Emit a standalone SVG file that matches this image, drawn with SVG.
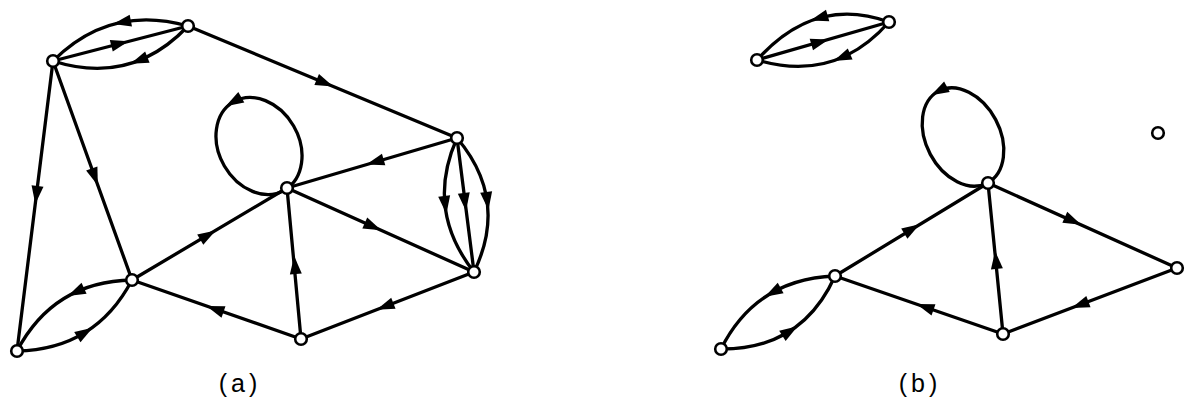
<svg xmlns="http://www.w3.org/2000/svg" width="1189" height="404" viewBox="0 0 1189 404">
<style>
.e{fill:none;stroke:#000;stroke-width:3.3;stroke-linecap:round}
.n{fill:#fff;stroke:#000;stroke-width:2.6}
.lbl{font-family:"Liberation Sans",Arial,sans-serif;font-size:25px;fill:#000;letter-spacing:4px}
</style>
<defs>
<path id="ah" d="M9,0 L-9,-6 L-9,6 Z" fill="#000"/>
</defs>
<g id="connectors">
<!-- (a) -->
<path class="e" d="M53,61 Q110,4 188,26"/>
<path class="e" d="M53,61 L188,26"/>
<path class="e" d="M53,61 Q131.5,86 188,26"/>
<use href="#ah" transform="translate(122,22.3) rotate(168.8)"/>
<use href="#ah" transform="translate(120,43.5) rotate(-14.5)"/>
<use href="#ah" transform="translate(139,60.5) rotate(158.3)"/>
<path class="e" d="M188,26 L457,138"/>
<use href="#ah" transform="translate(325,83) rotate(22.6)"/>
<path class="e" d="M53,61 L17,351"/>
<use href="#ah" transform="translate(36.4,195) rotate(97.1)"/>
<path class="e" d="M53,61 L132,280"/>
<use href="#ah" transform="translate(94.8,177) rotate(70.2)"/>
<path class="e" d="M457,138 L287,188"/>
<use href="#ah" transform="translate(375,162) rotate(163.6)"/>
<path class="e" d="M457,138 Q425,210 474,272"/>
<path class="e" d="M457,138 L474,272"/>
<path class="e" d="M457,138 Q509,199.5 474,272"/>
<use href="#ah" transform="translate(445.3,205) rotate(82.8)"/>
<use href="#ah" transform="translate(464.9,202) rotate(82.8)"/>
<use href="#ah" transform="translate(487.3,201) rotate(82.8)"/>
<ellipse class="e" cx="259" cy="146" rx="40" ry="51" transform="rotate(-30 259 146)"/>
<use href="#ah" transform="translate(233.5,101.8) rotate(150)"/>
<path class="e" d="M132,280 L287,188"/>
<use href="#ah" transform="translate(208,235) rotate(-30.7)"/>
<path class="e" d="M287,188 L474,272"/>
<use href="#ah" transform="translate(373,226.6) rotate(24.2)"/>
<path class="e" d="M301,339 L287,188"/>
<use href="#ah" transform="translate(295,265) rotate(-95.3)"/>
<path class="e" d="M301,339 L132,280"/>
<use href="#ah" transform="translate(215,309) rotate(-160.7)"/>
<path class="e" d="M474,272 L301,339"/>
<use href="#ah" transform="translate(385,306.5) rotate(158.8)"/>
<path class="e" d="M132,280 Q53.5,281.5 17,351"/>
<path class="e" d="M132,280 Q95.5,349.5 17,351"/>
<use href="#ah" transform="translate(75.9,292.1) rotate(155)"/>
<use href="#ah" transform="translate(85,332.5) rotate(-31.7)"/>
<!-- (b) -->
<path class="e" d="M757,60 Q815,-5 889,22"/>
<path class="e" d="M757,60 L889,22"/>
<path class="e" d="M757,60 Q835,83.3 889,22"/>
<use href="#ah" transform="translate(819,18) rotate(163.9)"/>
<use href="#ah" transform="translate(820,41.9) rotate(-16.1)"/>
<use href="#ah" transform="translate(841.9,57.5) rotate(156.6)"/>
<ellipse class="e" cx="963" cy="137" rx="37" ry="52" transform="rotate(-28 963 137)"/>
<use href="#ah" transform="translate(939,91) rotate(152)"/>
<path class="e" d="M835,276 L988,183"/>
<use href="#ah" transform="translate(912,229) rotate(-31.3)"/>
<path class="e" d="M988,183 L1177,268"/>
<use href="#ah" transform="translate(1073,221) rotate(24.2)"/>
<path class="e" d="M1177,268 L1003,334"/>
<use href="#ah" transform="translate(1080,304.8) rotate(159.2)"/>
<path class="e" d="M1003,334 L988,183"/>
<use href="#ah" transform="translate(996,260) rotate(-95.7)"/>
<path class="e" d="M1003,334 L835,276"/>
<use href="#ah" transform="translate(925,307) rotate(-160.9)"/>
<path class="e" d="M835,276 Q756,279 721,349"/>
<path class="e" d="M835,276 Q802,349.5 721,349"/>
<use href="#ah" transform="translate(772.8,292.3) rotate(150.8)"/>
<use href="#ah" transform="translate(790,331) rotate(-32.6)"/>
</g>
<g id="nA"><circle class="n" cx="53" cy="61" r="5.8"/></g>
<g id="nB"><circle class="n" cx="188" cy="26" r="5.8"/></g>
<g id="nC"><circle class="n" cx="457" cy="138" r="5.8"/></g>
<g id="nD"><circle class="n" cx="287" cy="188" r="5.8"/></g>
<g id="nE"><circle class="n" cx="132" cy="280" r="5.8"/></g>
<g id="nF"><circle class="n" cx="17" cy="351" r="5.8"/></g>
<g id="nG"><circle class="n" cx="301" cy="339" r="5.8"/></g>
<g id="nH"><circle class="n" cx="474" cy="272" r="5.8"/></g>
<g id="bA"><circle class="n" cx="757" cy="60" r="5.8"/></g>
<g id="bB"><circle class="n" cx="889" cy="22" r="5.8"/></g>
<g id="bC"><circle class="n" cx="1158" cy="133" r="5.8"/></g>
<g id="bD"><circle class="n" cx="988" cy="183" r="5.8"/></g>
<g id="bE"><circle class="n" cx="835" cy="276" r="5.8"/></g>
<g id="bF"><circle class="n" cx="721" cy="349" r="5.8"/></g>
<g id="bG"><circle class="n" cx="1003" cy="334" r="5.8"/></g>
<g id="bH"><circle class="n" cx="1177" cy="268" r="5.8"/></g>
<g id="labels">
<text class="lbl" x="240" y="392" text-anchor="middle">(a)</text>
<text class="lbl" x="920" y="392" text-anchor="middle">(b)</text>
</g>
</svg>
